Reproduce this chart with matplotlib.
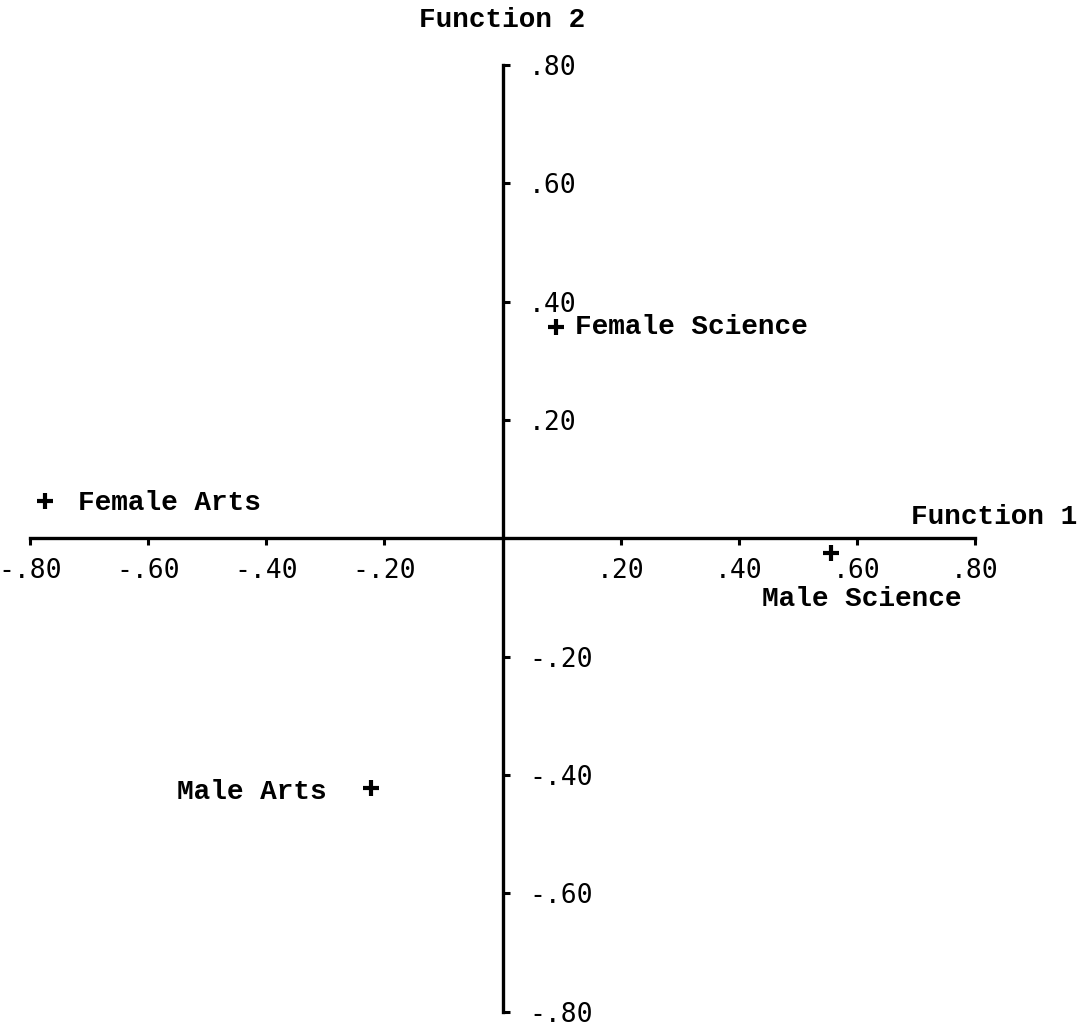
import matplotlib
matplotlib.use("Agg")
import matplotlib.pyplot as plt

# ---- data ----
groups = ["Female Science", "Female Arts", "Male Science", "Male Arts"]
func1 = [0.09, -0.775, 0.557, -0.222]
func2 = [0.357, 0.064, -0.025, -0.421]
xticks = [-0.80, -0.60, -0.40, -0.20, 0.20, 0.40, 0.60, 0.80]
xtick_labels = ["-.80", "-.60", "-.40", "-.20", ".20", ".40", ".60", ".80"]
yticks = [-0.80, -0.60, -0.40, -0.20, 0.20, 0.40, 0.60, 0.80]
ytick_labels = ["-.80", "-.60", "-.40", "-.20", ".20", ".40", ".60", ".80"]
xlabel = "Function 1"
ylabel = "Function 2"

# label placement (offsets in points, alignment)
label_style = {
    "Female Science": dict(xytext=(14, 0), ha="left", va="center"),
    "Female Arts": dict(xytext=(24, -2), ha="left", va="center"),
    "Male Science": dict(xytext=(-50, -33), ha="left", va="center"),
    "Male Arts": dict(xytext=(-32, -3), ha="right", va="center"),
}

W, H, DPI = 1086, 1029, 100
fig = plt.figure(figsize=(W / DPI, H / DPI), dpi=DPI)
ax = fig.add_axes([0, 0, 1, 1])
ax.set_xlim(-0.851, 0.988)
ax.set_ylim(-0.829, 0.910)

for s in ["top", "left"]:
    ax.spines[s].set_visible(False)
for s in ["right", "bottom"]:
    ax.spines[s].set_position(("data", 0))
    ax.spines[s].set_linewidth(2.4)
ax.spines["right"].set_bounds(-0.80, 0.80)
ax.spines["bottom"].set_bounds(-0.80, 0.80)

ax.yaxis.tick_right()
ax.set_xticks(xticks)
ax.set_xticklabels(xtick_labels)
ax.set_yticks(yticks)
ax.set_yticklabels(ytick_labels)
ax.tick_params(axis="x", direction="out", length=5, width=2.2, pad=9,
               labelsize=19)
ax.tick_params(axis="y", direction="out", length=5, width=2.2, pad=14,
               labelsize=19)
for lab in ax.get_xticklabels() + ax.get_yticklabels():
    lab.set_fontfamily("DejaVu Sans Mono")

ax.plot(func1, func2, linestyle="none", marker="+", markersize=12,
        markeredgewidth=3, color="black")

for g, x, y in zip(groups, func1, func2):
    st = label_style[g]
    ax.annotate(g, (x, y), xytext=st["xytext"], textcoords="offset points",
                ha=st["ha"], va=st["va"], fontsize=20,
                family="Liberation Mono", fontweight="bold")

ax.text(0.0, 0.876, ylabel, ha="center", va="center", fontsize=20,
        family="Liberation Mono", fontweight="bold")
ax.text(0.973, 0.036, xlabel, ha="right", va="center", fontsize=20,
        family="Liberation Mono", fontweight="bold")

fig.savefig("out.png", dpi=DPI, facecolor="white")
